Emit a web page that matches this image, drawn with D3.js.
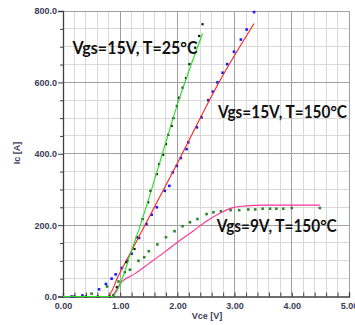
<!DOCTYPE html>
<html><head><meta charset="utf-8">
<script src="https://cdn.jsdelivr.net/npm/d3@7"></script>
<style>body{margin:0;background:#fff}svg{display:block}</style>
</head><body>
<svg id="c" width="355" height="325"></svg>
<script>
// ---- data (Vce [V], Ic [A]) ----
const xTicks = [0,1,2,3,4,5];
const yTicks = [0,200,400,600,800];
const xTickLabels = ["0.00","1.00","2.00","3.00","4.00","5.00"];
const yTickLabels = ["0.0","200.0","400.0","600.0","800.0"];

const line25 = [[0,0],[0.86,0],[0.93,12],[1.0,35],[1.1,80],[1.2,130],[1.29,170],[1.70,380],[1.98,528],[2.44,737]];
const dots25 = [[0.2,0],[0.4,0],[0.61,0],[0.82,0],[0.88,3],[0.94,26],[1.08,68],[1.11,96],[1.25,133],[1.29,166],[1.39,217],[1.49,264],[1.53,296],[1.64,343],[1.68,371],[1.75,397],[1.80,427],[1.84,453],[1.90,478],[1.93,500],[1.99,534],[2.03,557],[2.09,585],[2.15,612],[2.21,651],[2.31,697],[2.38,730],[2.44,763]];

const line150 = [[0,0],[0.78,0],[0.97,59],[1.26,147],[2.02,380],[2.74,604],[3.34,765]];
const dots150 = [[0.15,0],[0.34,3],[0.63,20],[0.75,35],[0.85,50],[0.92,62],[1.03,80],[1.12,100],[1.20,120],[1.33,164],[1.46,203],[1.55,229],[1.64,250],[1.78,296],[1.86,310],[1.92,348],[1.99,366],[2.06,388],[2.16,413],[2.19,432],[2.34,474],[2.42,502],[2.54,550],[2.62,574],[2.70,600],[2.79,627],[2.87,651],[2.99,686],[3.11,720],[3.21,748],[3.34,797]];

const line9 = [[0,0],[0.85,0],[0.92,15],[1.0,36],[1.26,64],[1.5,92],[1.78,125],[2.0,152],[2.27,183],[2.5,210],[2.75,234],[2.97,249],[3.2,254],[3.5,256],[4.49,256]];
const dots9 = [[0.5,8],[0.77,28],[0.97,42],[1.17,75],[1.32,100],[1.42,110],[1.50,127],[1.65,146],[1.80,166],[1.95,183],[2.09,197],[2.22,208],[2.35,217],[2.51,231],[2.63,236],[2.76,239],[2.93,242],[3.08,242],[3.24,244],[3.36,244],[3.49,246],[3.62,246],[3.73,246],[3.85,246],[4.00,248],[4.49,248]];

const labels = ["Vgs=15V, T=25°C","Vgs=15V, T=150°C","Vgs=9V, T=150°C"];

// ---- drawing ----
const svg = d3.select("#c");
const x = d3.scaleLinear().domain([0,5]).range([63,349]);
const y = d3.scaleLinear().domain([0,800]).range([296.5,11]);

const g = svg.append("g");
// minor grid
const xMinor = d3.range(0,5.001,0.2).filter(v=>Math.abs(v-Math.round(v))>1e-6);
const yMinor = d3.range(0,800.1,50).filter(v=>v%200!==0);
g.selectAll(".vmin").data(xMinor).join("line")
  .attr("x1",d=>x(d)).attr("x2",d=>x(d)).attr("y1",y(0)).attr("y2",y(800))
  .attr("stroke","#d9d9d9").attr("stroke-width",1).attr("shape-rendering","crispEdges");
g.selectAll(".hmin").data(yMinor).join("line")
  .attr("x1",x(0)).attr("x2",x(5)).attr("y1",d=>y(d)).attr("y2",d=>y(d))
  .attr("stroke","#d9d9d9").attr("stroke-width",1).attr("shape-rendering","crispEdges");
// major grid
g.selectAll(".vmaj").data(xTicks.slice(1)).join("line")
  .attr("x1",d=>x(d)).attr("x2",d=>x(d)).attr("y1",y(0)).attr("y2",y(800))
  .attr("stroke","#a0a0a0").attr("stroke-width",1).attr("shape-rendering","crispEdges");
g.selectAll(".hmaj").data(yTicks.slice(1)).join("line")
  .attr("x1",x(0)).attr("x2",x(5)).attr("y1",d=>y(d)).attr("y2",d=>y(d))
  .attr("stroke","#a0a0a0").attr("stroke-width",1).attr("shape-rendering","crispEdges");

// axes
const tickColor = "#3c3c58";
const xAxis = d3.axisBottom(x).tickValues(d3.range(0,5.001,0.2)).tickSize(-4).tickPadding(6)
  .tickFormat(d=>{const i=xTicks.findIndex(t=>Math.abs(t-d)<1e-6);return i>=0?xTickLabels[i]:"";});
const ax = svg.append("g").attr("transform",`translate(0,${y(0)})`).call(xAxis);
const yAxis = d3.axisLeft(y).tickValues(d3.range(0,800.1,50)).tickSize(5).tickPadding(1)
  .tickFormat(d=>{const i=yTicks.indexOf(d);return i>=0?yTickLabels[i]:"";});
const ay = svg.append("g").attr("transform",`translate(${x(0)},0)`).call(yAxis);
[ax,ay].forEach(a=>{
  a.select(".domain").attr("stroke","#404040").attr("stroke-width",1.3);
  a.selectAll(".tick line").attr("stroke","#404040");
  a.selectAll("text").attr("font-family","Liberation Sans, Arial, sans-serif")
    .attr("font-size","9px").attr("font-weight","bold").attr("fill",tickColor);
});
ay.selectAll(".tick line").attr("x2",d=>yTicks.includes(d)?-5:-3);

// axis titles
svg.append("text").attr("x",207).attr("y",319).attr("text-anchor","middle")
  .attr("font-family","Liberation Sans, Arial, sans-serif").attr("font-size","9px")
  .attr("font-weight","bold").attr("fill",tickColor).text("Vce [V]");
svg.append("text").attr("transform","translate(20,153) rotate(-90)").attr("text-anchor","middle")
  .attr("font-family","Liberation Sans, Arial, sans-serif").attr("font-size","9px")
  .attr("font-weight","bold").attr("fill",tickColor).text("Ic [A]");

// lines
const ln = d3.line().x(d=>x(d[0])).y(d=>y(d[1])).curve(d3.curveMonotoneX);
const plot = svg.append("g");
function drawLine(data,color){
  plot.append("path").datum(data).attr("d",ln).attr("fill","none")
    .attr("stroke",color).attr("stroke-width",1.1);
}
function drawDots(data,color,s){
  plot.append("g").selectAll("rect").data(data).join("rect")
    .attr("x",d=>x(d[0])-s/2).attr("y",d=>y(d[1])-s/2)
    .attr("width",s).attr("height",s).attr("fill",color);
}
drawDots(dots9,"#2a8a2a",2.6);
drawLine(line9,"#ff3399");
drawDots(dots150,"#1a1aff",2.6);
drawLine(line150,"#ff2020");
drawDots(dots25,"#111111",2.2);
drawLine(line25,"#22dd22");

// annotations
const ann = [[72.5,53.5,125],[218,117.5,129],[216.7,231.7,120]];
labels.forEach((t,i)=>{
  svg.append("text").attr("x",ann[i][0]).attr("y",ann[i][1])
    .attr("font-family","Lato, 'Open Sans', sans-serif").attr("font-weight","bold")
    .attr("font-size","16.5px").attr("fill","#111")
    .attr("textLength",ann[i][2]).attr("lengthAdjust","spacingAndGlyphs").text(t);
});
</script>
</body></html>
